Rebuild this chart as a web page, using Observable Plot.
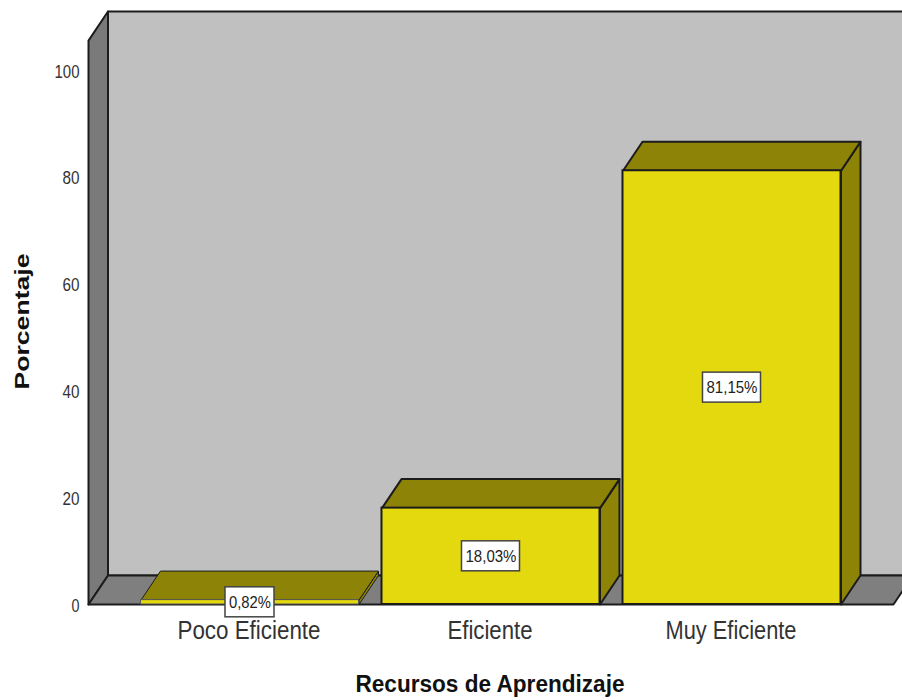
<!DOCTYPE html>
<html>
<head>
<meta charset="utf-8">
<style>html,body{margin:0;padding:0;background:#fff}svg{display:block}</style>
<script src="https://cdn.jsdelivr.net/npm/d3@7"></script>
<script src="https://cdn.jsdelivr.net/npm/@observablehq/plot@0.6"></script>
</head>
<body>
<div id="chart"></div>
<script>
const categories = ["Poco Eficiente", "Eficiente", "Muy Eficiente"];
const percentages = [0.82, 18.03, 81.15];
const valueLabels = ["0,82%", "18,03%", "81,15%"];
const yTicks = [0, 20, 40, 60, 80, 100];
const xTitle = "Recursos de Aprendizaje";
const yTitle = "Porcentaje";

// Chart box and extruded depth, expressed in scale units
const barHalf = 0.4523, depthX = 0.0809, depthY = 5.43;
const wallLeft = -0.6701, wallRight = 2.670, wallTop = 105.5;
const xDomain = [-0.6701, 2.7075], yDomain = [0, 113];

const poly = (pts, z) => [...pts, pts[0]].map(([x, y]) => ({x, y, z}));
const leftWall = poly([[wallLeft, 0], [wallLeft, wallTop], [wallLeft + depthX, wallTop + depthY], [wallLeft + depthX, depthY]], "l");
const floor = poly([[wallLeft, 0], [wallRight, 0], [wallRight + depthX, depthY], [wallLeft + depthX, depthY]], "f");
const backWall = poly([[wallLeft + depthX, depthY], [wallLeft + depthX, wallTop + depthY], [wallRight + depthX, wallTop + depthY], [wallRight + depthX, depthY]], "b");
const bars = categories.map((name, i) => ({name, i, v: percentages[i], label: valueLabels[i]}));
const tops = bars.flatMap(b => poly([[b.i - barHalf, b.v], [b.i + barHalf, b.v], [b.i + barHalf + depthX, b.v + depthY], [b.i - barHalf + depthX, b.v + depthY]], "t" + b.i));
const sides = bars.flatMap(b => poly([[b.i + barHalf, 0], [b.i + barHalf, b.v], [b.i + barHalf + depthX, b.v + depthY], [b.i + barHalf + depthX, depthY]], "s" + b.i));

const ink = "#1c1c1c", dark = "#8d8307", yellow = "#e4d80e";
const face = (data, fill, sw = 2) => Plot.line(data, {x: "x", y: "y", z: "z", fill, stroke: ink, strokeWidth: sw, strokeLinejoin: "round"});
const box = (data, half) => Plot.rect(data, {x1: "i", x2: "i", y1: d => d.v / 2, y2: d => d.v / 2,
  insetLeft: -half, insetRight: -half, insetTop: -15, insetBottom: -15, fill: "#fff", stroke: "#444", strokeWidth: 1.5});

const sans = "Liberation Sans, Arial, sans-serif";
const chart = Plot.plot({
  width: 902, height: 700,
  marginLeft: 88, marginRight: 0, marginTop: 0, marginBottom: 96,
  style: {background: "#fff"},
  x: {domain: xDomain, axis: null},
  y: {domain: yDomain, axis: null},
  marks: [
    face(backWall, "#c0c0c0"),
    face(leftWall, "#7a7a7a"),
    face(floor, "#7f7f7f"),
    face(sides.filter(p => p.z !== "s0"), dark),
    face(tops.filter(p => p.z !== "t0"), dark),
    face(sides.filter(p => p.z === "s0"), dark, 1),
    face(tops.filter(p => p.z === "t0"), dark, 1),
    Plot.rect(bars.filter(d => d.i > 0), {x1: d => d.i - barHalf, x2: d => d.i + barHalf, y1: 0, y2: "v", fill: yellow, stroke: ink, strokeWidth: 2}),
    Plot.rect(bars.filter(d => d.i === 0), {x1: d => d.i - barHalf, x2: d => d.i + barHalf, y1: 0, y2: "v", fill: yellow, stroke: "#555", strokeWidth: 1}),
    box(bars.filter(d => d.v < 1), 24.5),
    box(bars.filter(d => d.v >= 1), 29),
    Plot.text(bars, {x: "i", y: d => d.v / 2, text: "label", fontSize: 16.5, fontFamily: sans, fill: "#222"}),
    Plot.axisY({ticks: yTicks, tickSize: 0, tickPadding: 9, label: null, fontSize: 19, fontFamily: sans, color: "#333", dy: 1.5}),
    Plot.axisX({ticks: [0, 1, 2], tickFormat: i => categories[i], tickSize: 0, tickPadding: 17, label: null, fontSize: 25, fontFamily: sans, color: "#333", dx: -1}),
    Plot.text([xTitle], {frameAnchor: "bottom", dx: -5.5, dy: 87, fontSize: 23, fontWeight: "bold", fontFamily: sans, fill: "#111"}),
    Plot.text([yTitle], {frameAnchor: "left", textAnchor: "middle", dx: -66, dy: 19, rotate: -90, fontSize: 21, fontWeight: "bold", fontFamily: sans, fill: "#111"})
  ]
});
// The source's lettering is horizontally squeezed or stretched: fit each string to its measured width
const textWidths = {"0": 8, "20": 17, "40": 17, "60": 17, "80": 17, "100": 25,
  "Poco Eficiente": 143, "Eficiente": 85, "Muy Eficiente": 131,
  "0,82%": 42, "18,03%": 51, "81,15%": 51,
  "Recursos de Aprendizaje": 269, "Porcentaje": 136};
chart.querySelectorAll("text").forEach(t => {
  const w = textWidths[t.textContent.trim()];
  if (w) { t.setAttribute("textLength", w); t.setAttribute("lengthAdjust", "spacingAndGlyphs"); }
});
document.getElementById("chart").append(chart);
</script>
</body>
</html>
